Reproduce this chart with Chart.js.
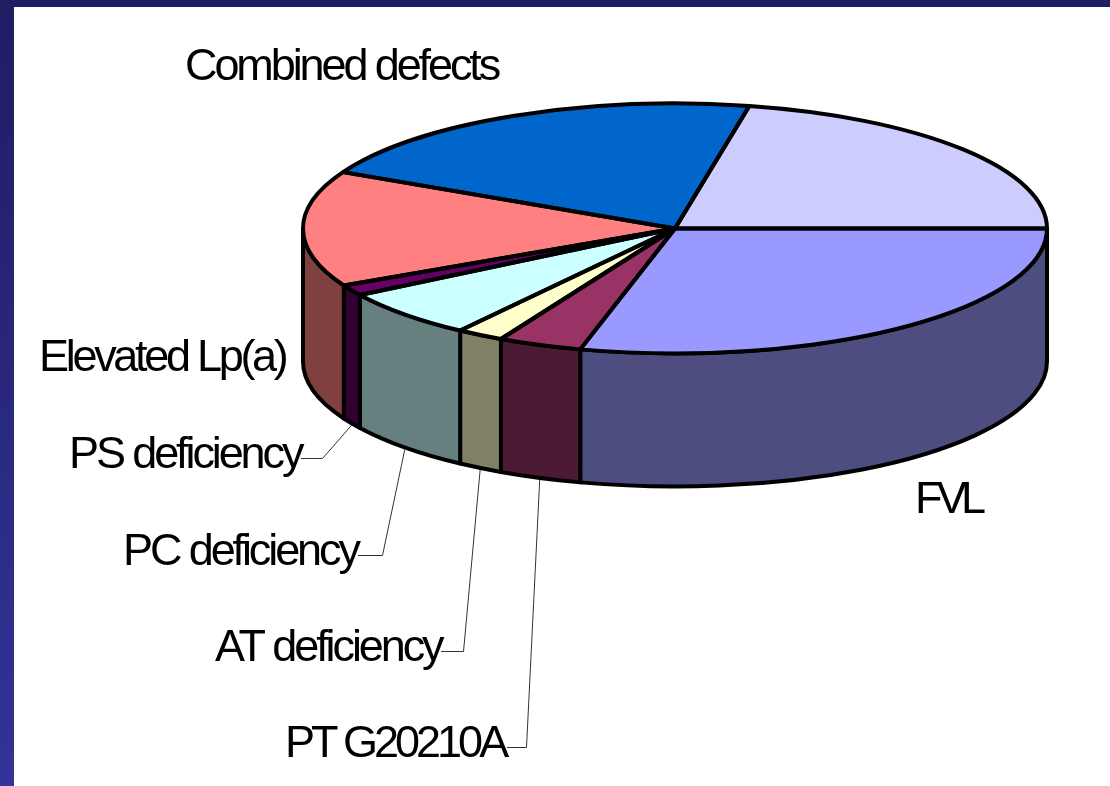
<!DOCTYPE html>
<html>
<head>
<meta charset="utf-8">
<title>Pie</title>
<script src="https://cdn.jsdelivr.net/npm/chart.js@4"></script>
<style>
  html, body { margin: 0; height: 100%; overflow: hidden; }
  body { background: linear-gradient(#1f1d63, #333399); position: relative; width: 1110px; height: 786px; }
  #panel { position: absolute; left: 14px; top: 7px; right: 0; bottom: 0; background: #fff; }
  #myChart { position: absolute; left: 0; top: 0; }
</style>
</head>
<body>
<div id="panel"></div>
<canvas id="myChart" width="1110" height="786"></canvas>
<script>
const categories = ['FVL', 'PT G20210A', 'AT deficiency', 'PC deficiency', 'PS deficiency', 'Elevated Lp(a)', 'Combined defects', ''];
const values = [29.1, 3.65, 2.05, 6.28, 1.39, 14.98, 20.75, 21.8];

const sliceColors = ['#9999ff', '#993366', '#ffffcc', '#ccffff', '#660066', '#ff8080', '#0066cc', '#ccccff'];
const wallColors = ['#4d4d80', '#4d1a33', '#808066', '#668080', '#330033', '#804040', '#003366', '#666680'];

// where the text sits, and the elbow of the leader line if it has one
const labelSpots = {
  'FVL': { x: 915, y: 513, spacing: -5.8 },
  'PT G20210A': { x: 285, y: 757, spacing: -4, lineFrom: 507, elbow: [526, 747] },
  'AT deficiency': { x: 215, y: 661, spacing: -3.1, lineFrom: 441, elbow: [463, 651] },
  'PC deficiency': { x: 123, y: 565, spacing: -3.1, lineFrom: 358, elbow: [382, 555] },
  'PS deficiency': { x: 69, y: 468, spacing: -3.1, lineFrom: 301, elbow: [322, 458] },
  'Elevated Lp(a)': { x: 39, y: 371, spacing: -3.3 },
  'Combined defects': { x: 185, y: 80, spacing: -3.1 }
};

const TOP_Y = 228.5;      // centre of the squashed top face
const SQUASH = 125 / 372; // ellipse ry / rx
const WALL = 133;         // height of the side wall

const pie3d = {
  id: 'pie3d',
  beforeDatasetsDraw(chart) {
    const ctx = chart.ctx;
    const arcs = chart.getDatasetMeta(0).data;
    ctx.save();
    ctx.lineWidth = 4;
    ctx.lineJoin = 'round';
    ctx.strokeStyle = '#000';
    arcs.forEach((arc, i) => {
      const a0 = Math.max(arc.startAngle, 0);
      const a1 = Math.min(arc.endAngle, Math.PI);
      if (a1 <= a0) return;
      const r = arc.outerRadius;
      ctx.beginPath();
      ctx.ellipse(arc.x, TOP_Y, r, r * SQUASH, 0, a0, a1);
      ctx.ellipse(arc.x, TOP_Y + WALL, r, r * SQUASH, 0, a1, a0, true);
      ctx.closePath();
      ctx.fillStyle = wallColors[i];
      ctx.fill();
      ctx.stroke();
    });
    ctx.restore();

    // the library paints the slices, only squashed
    const cy = arcs[0].y;
    ctx.save();
    ctx.translate(0, TOP_Y);
    ctx.scale(1, SQUASH);
    ctx.translate(0, -cy);
  },
  afterDatasetsDraw(chart) {
    const ctx = chart.ctx;
    ctx.restore();
    const arcs = chart.getDatasetMeta(0).data;

    ctx.save();
    ctx.lineWidth = 4;
    ctx.lineJoin = 'round';
    ctx.strokeStyle = '#000';
    arcs.forEach((arc) => {
      const r = arc.outerRadius;
      ctx.beginPath();
      ctx.moveTo(arc.x, TOP_Y);
      ctx.ellipse(arc.x, TOP_Y, r, r * SQUASH, 0, arc.startAngle, arc.endAngle);
      ctx.closePath();
      ctx.stroke();
    });
    ctx.restore();

    ctx.save();
    ctx.fillStyle = '#000';
    ctx.font = '45px "Liberation Sans", Arial, sans-serif';
    ctx.textBaseline = 'alphabetic';
    categories.forEach((name, i) => {
      const spot = labelSpots[name];
      if (!spot) return;
      ctx.letterSpacing = spot.spacing + 'px';
      ctx.fillText(name, spot.x, spot.y);
      if (!spot.elbow) return;
      const arc = arcs[i];
      const mid = (arc.startAngle + arc.endAngle) / 2;
      const r = arc.outerRadius;
      ctx.beginPath();
      ctx.moveTo(spot.lineFrom, spot.elbow[1] + 0.5);
      ctx.lineTo(spot.elbow[0] + 0.5, spot.elbow[1] + 0.5);
      ctx.lineTo(arc.x + r * Math.cos(mid), TOP_Y + WALL + r * SQUASH * Math.sin(mid) + 2);
      ctx.lineWidth = 1;
      ctx.strokeStyle = '#333';
      ctx.stroke();
    });
    ctx.restore();
  }
};

new Chart(document.getElementById('myChart').getContext('2d'), {
  type: 'pie',
  data: {
    labels: categories,
    datasets: [{
      data: values,
      backgroundColor: sliceColors,
      borderWidth: 0,
      clip: false
    }]
  },
  options: {
    responsive: false,
    animation: false,
    devicePixelRatio: 1,
    rotation: 90,
    layout: { padding: { left: 303, right: 63, top: 14, bottom: 28 } },
    plugins: {
      legend: { display: false },
      tooltip: { enabled: false }
    }
  },
  plugins: [pie3d]
});
</script>
</body>
</html>
